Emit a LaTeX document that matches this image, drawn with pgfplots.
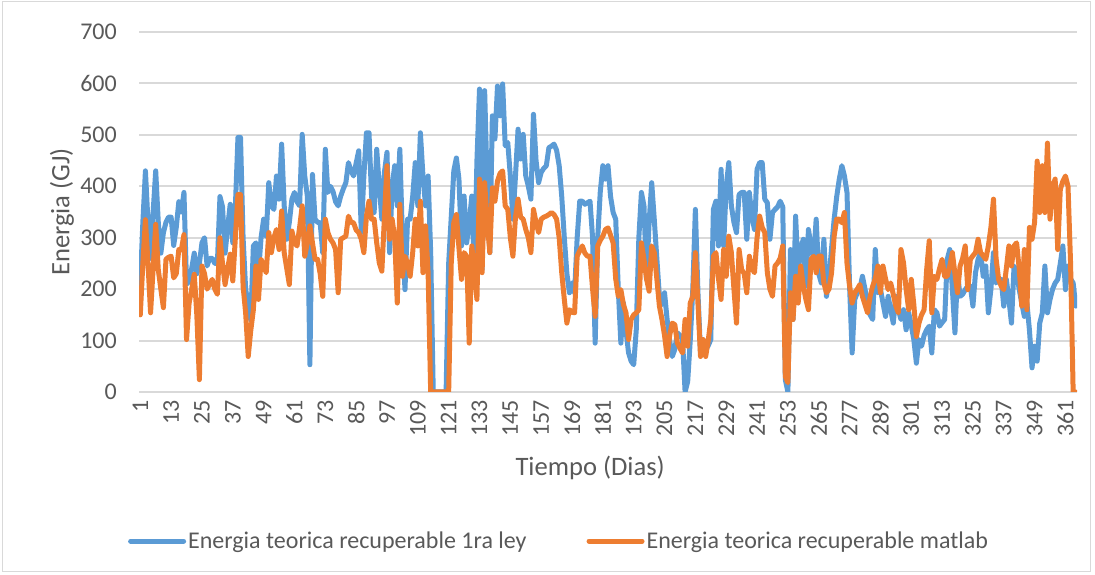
\documentclass[border=0pt]{standalone}
\usepackage{pgfplots}
\usepackage{pgfplotstable}
\pgfplotsset{compat=1.18}
\usepackage{fontspec}
\setmainfont{Carlito}
\definecolor{xlblue}{HTML}{5B9BD5}
\definecolor{xlorange}{HTML}{ED7D31}
\definecolor{gridgray}{HTML}{D9D9D9}
\definecolor{txtgray}{HTML}{595959}
\newcommand\tickfont{\fontsize{24bp}{28bp}\selectfont}
\newcommand\titlefont{\fontsize{26.6bp}{31bp}\selectfont}
\pgfplotstableread{
d b o
1 206 150
2 330 250
3 430 335
4 330 250
5 260 154
6 350 240
7 430 326
8 330 238
9 270 200
10 310 164
11 330 258
12 340 262
13 340 264
14 285 222
15 320 230
16 370 277
17 350 277
18 388 306
19 210 102
20 215 173
21 240 200
22 270 229
23 230 150
24 250 24
25 290 245
26 300 230
27 245 200
28 260 210
29 260 219
30 250 200
31 250 190
32 380 300
33 360 250
34 270 209
35 320 240
36 365 268
37 290 216
38 360 300
39 495 384
40 495 384
41 300 206
42 200 154
43 170 69
44 140 120
45 284 160
46 290 245
47 232 180
48 300 258
49 336 245
50 303 232
51 407 310
52 362 271
53 355 300
54 420 316
55 375 277
56 482 352
57 362 271
58 297 240
59 330 209
60 375 313
61 388 290
62 370 284
63 362 320
64 501 362
65 420 264
66 381 290
67 53 323
68 423 290
69 336 258
70 330 258
71 329 230
72 271 186
73 472 336
74 388 310
75 400 297
76 390 290
77 370 277
78 362 193
79 381 297
80 395 300
81 407 303
82 446 342
83 430 330
84 420 329
85 445 315
86 469 310
87 310 297
88 420 271
89 504 342
90 504 371
91 380 336
92 349 336
93 472 290
94 400 251
95 336 235
96 427 340
97 466 440
98 271 297
99 400 336
100 440 300
101 362 173
102 472 365
103 300 225
104 199 264
105 336 250
106 336 225
107 380 271
108 446 336
109 362 284
110 504 371
111 420 232
112 362 323
113 420 232
114 271 0
115 0 0
116 0 0
117 0 0
118 0 0
119 0 0
120 0 0
121 250 0
122 340 250
123 430 330
124 455 345
125 414 280
126 284 219
127 381 271
128 290 264
129 329 95
130 381 284
131 232 232
132 450 180
133 589 414
134 238 232
135 586 407
136 400 330
137 271 271
138 537 397
139 492 371
140 595 410
141 537 425
142 599 430
143 479 362
144 485 355
145 420 300
146 336 264
147 420 340
148 511 375
149 453 340
150 501 336
151 420 316
152 400 300
153 375 271
154 540 355
155 450 330
156 407 310
157 427 336
158 435 340
159 440 342
160 475 345
161 478 349
162 482 345
163 470 336
164 440 300
165 380 232
166 300 180
167 230 134
168 193 160
169 212 155
170 193 154
171 300 264
172 371 275
173 371 284
174 365 270
175 368 264
176 371 264
177 300 200
178 95 147
179 300 284
180 390 295
181 440 303
182 414 316
183 440 319
184 380 305
185 349 290
186 336 220
187 200 186
188 95 199
189 173 170
190 120 154
191 76 102
192 60 141
193 53 150
194 121 154
195 300 160
196 388 290
197 362 258
198 219 220
199 330 196
200 407 284
201 336 271
202 260 220
203 186 167
204 170 141
205 193 110
206 141 69
207 100 110
208 69 134
209 83 131
210 115 95
211 110 85
212 102 76
213 0 141
214 20 89
215 100 173
216 200 186
217 355 271
218 193 173
219 76 69
220 102 102
221 83 69
222 90 100
223 102 141
224 355 264
225 371 271
226 284 220
227 433 180
228 284 277
229 400 225
230 446 303
231 362 271
232 330 200
233 310 134
234 384 277
235 388 238
236 388 230
237 297 193
238 388 264
239 340 240
240 316 232
241 433 300
242 446 342
243 446 320
244 375 310
245 368 232
246 297 200
247 349 186
248 355 245
249 360 251
250 371 260
251 360 284
252 24 30
253 0 18
254 277 193
255 141 141
256 342 225
257 232 173
258 280 245
259 297 206
260 206 180
261 316 160
262 284 258
263 258 264
264 336 232
265 230 264
266 212 264
267 297 212
268 186 193
269 219 200
270 280 232
271 336 303
272 380 336
273 414 336
274 440 329
275 420 349
276 388 250
277 206 206
278 76 173
279 180 193
280 193 200
281 200 209
282 225 186
283 200 170
284 173 154
285 150 186
286 141 206
287 277 220
288 193 245
289 200 193
290 173 245
291 147 220
292 186 199
293 160 212
294 134 190
295 186 167
296 160 154
297 141 277
298 160 251
299 121 200
300 154 160
301 130 219
302 102 170
303 56 108
304 102 134
305 89 150
306 110 160
307 121 238
308 128 294
309 76 154
310 160 225
311 154 219
312 128 240
313 135 258
314 141 225
315 258 225
316 277 245
317 200 271
318 115 230
319 232 193
320 186 245
321 190 260
322 199 284
323 206 199
324 206 258
325 167 265
326 232 271
327 258 297
328 271 271
329 225 265
330 245 258
331 154 284
332 200 320
333 271 375
334 212 260
335 219 219
336 219 206
337 167 199
338 219 240
339 180 284
340 134 245
341 245 284
342 232 290
343 200 240
344 173 167
345 147 277
346 173 160
347 120 320
348 47 297
349 89 330
350 60 449
351 134 349
352 154 440
353 245 349
354 154 484
355 180 336
356 200 400
357 212 414
358 219 277
359 250 394
360 284 410
361 199 420
362 245 400
363 220 250
364 212 0
365 167 0
}\energy
\begin{document}
\begin{tikzpicture}
\useasboundingbox (0bp,0bp) rectangle (1095bp,575bp);
\draw[gridgray, line width=1bp] (2bp,3bp) rectangle (1090bp,573bp);
\begin{axis}[
  at={(139bp,183bp)}, anchor=south west,
  scale only axis, width=938bp, height=360bp,
  xmin=0.5, xmax=365.5, ymin=0, ymax=700,
  xtick={1,13,...,361}, ytick={0,100,...,700},
  axis line style={draw=none},
  major tick length=0pt,
  ymajorgrids, grid style={line width=2bp, color=gridgray},
  /pgf/number format/assume math mode=true,
  tick label style={font=\tickfont, text=txtgray, inner sep=0pt},
  yticklabel style={anchor=east},
  yticklabel shift=22bp,
  xticklabel style={rotate=90, anchor=east},
  xticklabel shift=8bp,
  xlabel={Tiempo (Dias)}, ylabel={Energia (GJ)},
  xlabel style={at={(axis description cs:0.481,-0.2111)}, anchor=center, font=\titlefont, text=txtgray},
  ylabel style={at={(axis description cs:-0.0821,0.5)}, anchor=center, font=\titlefont, text=txtgray},
  legend columns=2,
  legend style={at={(axis description cs:0.4478,-0.414)}, anchor=center, draw=none, fill=none,
    font=\tickfont, text=txtgray, inner sep=0pt,
    /tikz/every even column/.append style={column sep=58bp}},
  legend image code/.code={\draw[#1, line width=5bp, line cap=round] (0bp,0bp) -- (53bp,0bp);},
  every axis plot/.append style={line width=5bp, line join=round, line cap=round},
]
\addplot[xlblue] table[x=d, y=b] {\energy};
\addlegendentry{Energia teorica recuperable 1ra ley}
\addplot[xlorange] table[x=d, y=o] {\energy};
\addlegendentry{Energia teorica recuperable matlab}
\end{axis}
\end{tikzpicture}
\end{document}
